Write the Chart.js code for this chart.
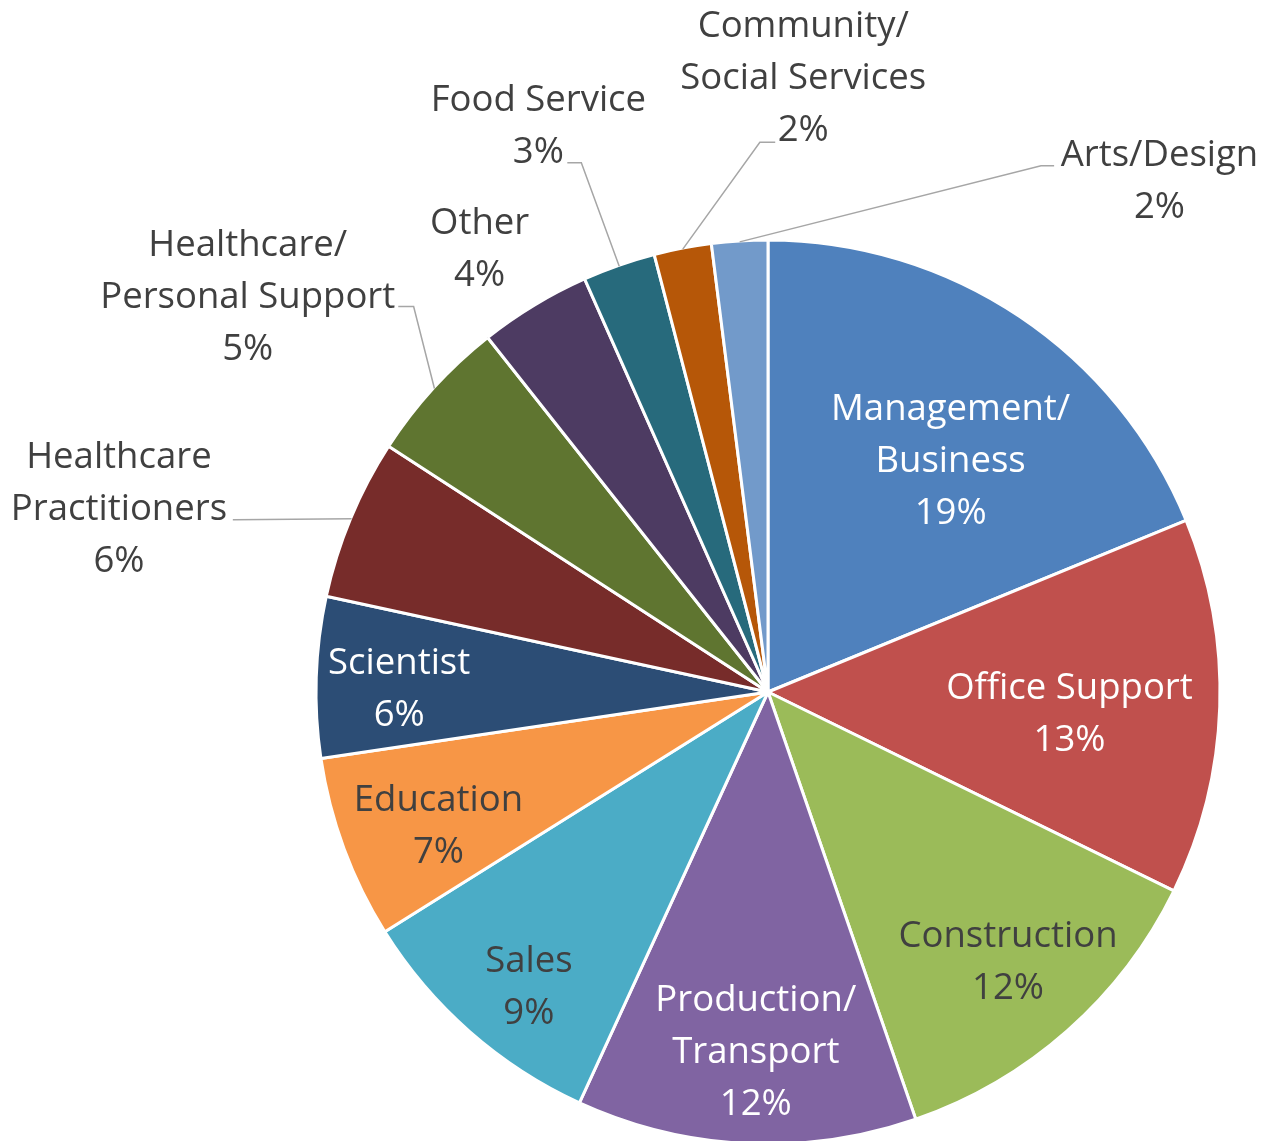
<!DOCTYPE html>
<html>
<head>
<meta charset="utf-8">
<script src="https://cdn.jsdelivr.net/npm/chart.js@4"></script>
<style>
    html, body { margin: 0; padding: 0; background: #fff; }
    #wrap { width: 1265px; height: 1141px; position: relative; }
</style>
</head>
<body>
<div id="wrap"><canvas id="chart"></canvas></div>
<script>
// categories (one entry per text line)
const categories = [
    ["Management/", "Business"],
    ["Office Support"],
    ["Construction"],
    ["Production/", "Transport"],
    ["Sales"],
    ["Education"],
    ["Scientist"],
    ["Healthcare", "Practitioners"],
    ["Healthcare/", "Personal Support"],
    ["Other"],
    ["Food Service"],
    ["Community/", "Social Services"],
    ["Arts/Design"]
];

// share of respondents, percent
const shares = [18.8, 13.45, 12.45, 12.15, 9.25, 6.55, 5.75, 5.75, 5.2, 4.0, 2.6, 2.05, 2.0];

const sliceColors = [
    "#4F81BD", "#C0504D", "#9BBB59", "#8064A2", "#4BACC6", "#F79646", "#2C4D75",
    "#772C2A", "#5F7530", "#4D3B62", "#276A7C", "#B65708", "#729ACA"
];

const labelColors = [
    "#ffffff", "#ffffff", "#404040", "#ffffff", "#404040", "#404040", "#ffffff",
    "#404040", "#404040", "#404040", "#404040", "#404040", "#404040"
];

// label block centre, in radius units from the pie centre
const labelPos = [
    [0.404, -0.516], [0.667, 0.044], [0.531, 0.592], [-0.027, 0.792],
    [-0.529, 0.649], [-0.729, 0.293], [-0.816, -0.011], [-1.436, -0.409],
    [-1.151, -0.878], [-0.638, -0.984], [-0.508, -1.256], [0.078, -1.362],
    [0.866, -1.136]
];

// leader lines: label end + elbow, radius units; last point is the slice edge
const leaders = {
    7: [[-1.184, -0.381], [-1.180, -0.381]],
    8: [[-0.818, -0.853], [-0.784, -0.853]],
    10: [[-0.444, -1.171], [-0.413, -1.171]],
    11: [[0.016, -1.216], [-0.018, -1.216]],
    12: [[0.633, -1.164], [0.604, -1.164]]
};

const FONT_SIZE = 36.5;
const LINE_H = 52;

const labelPlugin = {
    id: "sliceLabels",
    afterDatasetsDraw(chart) {
        const ctx = chart.ctx;
        const arcs = chart.getDatasetMeta(0).data;
        ctx.save();
        arcs.forEach((arc, i) => {
            const { x, y, outerRadius, startAngle, endAngle } = arc.getProps(
                ["x", "y", "outerRadius", "startAngle", "endAngle"], true);
            const R = outerRadius;
            const mid = (startAngle + endAngle) / 2;

            // leader line
            if (leaders[i]) {
                ctx.beginPath();
                ctx.strokeStyle = "#A6A6A6";
                ctx.lineWidth = 1.5;
                leaders[i].forEach((p, k) => {
                    const px = x + p[0] * R, py = y + p[1] * R;
                    if (k === 0) ctx.moveTo(px, py); else ctx.lineTo(px, py);
                });
                ctx.lineTo(x + Math.cos(mid) * (R - 1), y + Math.sin(mid) * (R - 1));
                ctx.stroke();
            }

            // text
            const lines = categories[i].concat([Math.round(shares[i]) + "%"]);
            const cx = x + labelPos[i][0] * R;
            const cy = y + labelPos[i][1] * R;
            ctx.font = FONT_SIZE + "px 'Open Sans'";
            ctx.fillStyle = labelColors[i];
            ctx.textAlign = "center";
            ctx.textBaseline = "alphabetic";
            const top = cy - (lines.length - 1) * LINE_H / 2;
            lines.forEach((t, k) => {
                ctx.fillText(t, cx, top + k * LINE_H + FONT_SIZE * 0.357);
            });
        });
        ctx.restore();
    }
};

new Chart(document.getElementById("chart"), {
    type: "pie",
    data: {
        labels: categories,
        datasets: [{
            data: shares,
            backgroundColor: sliceColors,
            borderColor: "#ffffff",
            borderWidth: 3,
            radius: 452
        }]
    },
    options: {
        responsive: true,
        maintainAspectRatio: false,
        animation: false,
        layout: { padding: { left: 271, right: 0, top: 243, bottom: 0 } },
        plugins: {
            legend: { display: false },
            tooltip: { enabled: false }
        }
    },
    plugins: [labelPlugin]
});
</script>
</body>
</html>
